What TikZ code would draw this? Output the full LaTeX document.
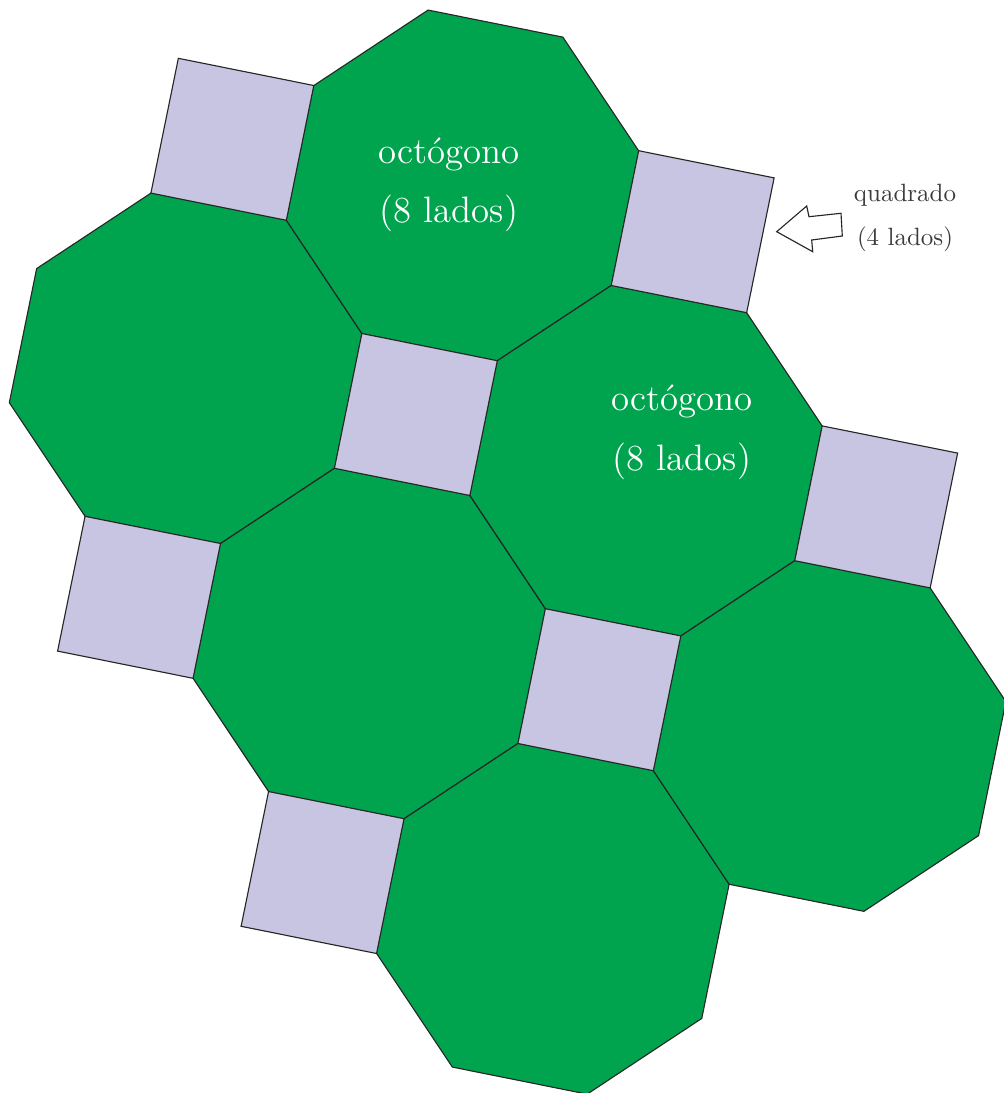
\documentclass[tikz,border=0pt]{standalone}
\definecolor{octgreen}{RGB}{0,164,78}
\definecolor{sqlav}{RGB}{199,197,226}
\definecolor{lblgray}{RGB}{60,60,60}
\tikzset{
  octstyle/.style={fill=octgreen,draw=black!85,line width=0.45pt,line join=miter},
  sqstyle/.style={fill=sqlav,draw=black!85,line width=0.45pt,line join=miter},
  biglabel/.style={text=white,font=\fontsize{14.7}{17}\selectfont,anchor=base,inner sep=0pt},
  smalllabel/.style={text=lblgray,font=\fontsize{10}{12}\selectfont,anchor=base,inner sep=0pt},
  arrowstyle/.style={fill=white,draw=black!85,line width=0.45pt,line join=miter}
}
\newcommand\octo[2]{%
  \path[octstyle] ({#1*331+179.1*cos(22.5)},{#2*331+179.1*sin(22.5)})
    \foreach \k in {1,...,7}{ -- ({#1*331+179.1*cos(22.5+45*\k)},{#2*331+179.1*sin(22.5+45*\k)}) } -- cycle;}
\newcommand\quadr[2]{%
  \path[sqstyle] ({#1*331+97.4},{#2*331})
    \foreach \k in {1,...,3}{ -- ({#1*331+97.4*cos(90*\k)},{#2*331+97.4*sin(90*\k)}) } -- cycle;}
\begin{document}
\begin{tikzpicture}[x=0.4pt,y=0.4pt]
\useasboundingbox (0,0) rectangle (1003,-1093);
\begin{scope}[shift={(185.7,-368.3)},x={(0.22175pt,-0.33257pt)},y={(0.3345pt,0.22091pt)}]
  \octo{0}{0}
  \octo{0}{1}
  \octo{1}{0}
  \octo{1}{1}
  \octo{2}{0}
  \octo{2}{1}
  \quadr{-0.5}{0.5}
  \quadr{0.5}{1.5}
  \quadr{0.5}{0.5}
  \quadr{1.5}{1.5}
  \quadr{0.5}{-0.5}
  \quadr{1.5}{0.5}
  \quadr{1.5}{-0.5}
\end{scope}
\node[biglabel] (o1a) at (449,-163.5) {octógono};
\node[biglabel] (o1b) at (449,-222.5) {(8 lados)};
\node[biglabel] (o2a) at (682,-410) {octógono};
\node[biglabel] (o2b) at (682,-470) {(8 lados)};
\node[smalllabel] (qa) at (905,-201) {quadrado};
\node[smalllabel] (qb) at (905,-245) {(4 lados)};
\path[arrowstyle] (776.7,-231.7) -- (806.7,-206) -- (809,-216.7) -- (841,-213.3)
  -- (842.3,-236) -- (811.7,-240) -- (812.7,-251.7) -- cycle;
\end{tikzpicture}
\end{document}
